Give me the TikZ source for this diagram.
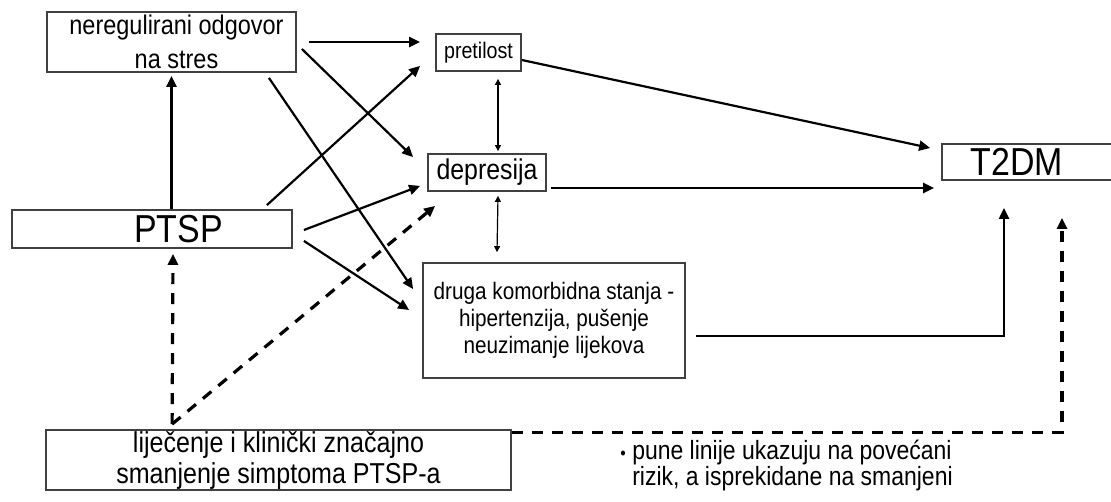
\documentclass[tikz,border=0pt]{standalone}
\usepackage{fontspec}
\setmainfont{Liberation Sans}[FakeStretch=0.87]
\usetikzlibrary{arrows.meta}
\begin{document}
\begin{tikzpicture}[x=0.5pt,y=-0.5pt,
    box/.style={draw=black!75,line width=0.9pt,inner sep=0pt,align=center},
    arr/.style={line width=1.1pt,-{Triangle[length=5.5pt,width=5pt]}},
    twoway/.style={line width=0.6pt,{Triangle[length=3pt,width=3pt]}-{Triangle[length=3pt,width=3pt]}},
    cut/.style={line width=1.6pt,dash pattern=on 5.5pt off 4.5pt,-{Triangle[length=5.5pt,width=5pt]}}]
  \useasboundingbox (0,0) rectangle (1111,502);
  % boxes
  \node[box,minimum width=124.5pt,minimum height=30pt,font=\fontsize{13.5}{17}\selectfont] (nereg) at (171.5,42) {\hspace*{5pt}neregulirani odgovor\\\hspace*{5pt}na stres};
  \node[box,minimum width=42.5pt,minimum height=18.5pt,font=\fontsize{11.3}{12}\selectfont] (pretilost) at (478.5,52.5) {pretilost};
  \node[box,minimum width=59pt,minimum height=18.5pt,font=\fontsize{14.3}{15}\selectfont] (depresija) at (487,172.5) {depresija};
  \node[box,minimum width=140pt,minimum height=19pt,font=\fontsize{19.5}{20}\selectfont] (ptsp) at (152,229) {\hspace*{26.5pt}PTSP};
  \node[box,minimum width=89pt,minimum height=18pt,font=\fontsize{19.5}{20}\selectfont] (t2dm) at (1031,162) {T2DM\hspace*{14pt}};
  \node[box,minimum width=131pt,minimum height=57.5pt,font=\fontsize{11.9}{13.5}\selectfont] (druga) at (554,320.5) {druga komorbidna stanja -\\hipertenzija, pušenje\\neuzimanje lijekova};
  \node[box,minimum width=232.5pt,minimum height=30pt,font=\fontsize{14.4}{15.5}\selectfont] (lijecenje) at (278.5,460) {liječenje i klinički značajno\\smanjenje simptoma PTSP-a};
  \node[anchor=west,align=left,inner sep=0pt,font=\fontsize{13.2}{13}\selectfont] (legenda) at (620,466) {{\small •} pune linije ukazuju na povećani\\\hphantom{{\small •} }rizik, a isprekidane na smanjeni};
  \coordinate (kut) at ([shift={(127,-5)}]lijecenje.north west);
  % solid connectors
  \draw[arr,shorten <=6pt,shorten >=7.5pt] (nereg.east) -- (nereg.east -| pretilost.west);
  \draw[arr] ([shift={(5,7)}]nereg.east) -- ([shift={(-14,4)}]depresija.north west);
  \draw[arr] ([shift={(-28,5)}]nereg.south east) -- ([shift={(-9,27)}]druga.north west);
  \draw[arr,shorten >=1.5pt] (nereg.south |- ptsp.north) -- (nereg.south);
  \draw[arr] ([shift={(-26,-4)}]ptsp.north east) -- ([shift={(-15,-6)}]pretilost.south west);
  \draw[arr] ([shift={(11,1)}]ptsp.east) -- ([shift={(-7,-6)}]depresija.south west);
  \draw[arr] ([shift={(11,-8)}]ptsp.south east) -- ([shift={(-13,-10.5)}]druga.west);
  \draw[twoway] ([shift={(19.5,7)}]pretilost.south) -- ([shift={(11,-2)}]depresija.north);
  \draw[twoway] ([shift={(11,4)}]depresija.south) -- ([shift={(-57,-10)}]druga.north);
  \draw[arr] ([shift={(0,7.5)}]pretilost.east) -- ([shift={(-11,-14)}]t2dm.west);
  \draw[arr,shorten >=5.5pt] ([shift={(4,15.5)}]depresija.east) -- ([shift={(4,15.5)}]depresija.east -| t2dm.west);
  \draw[arr] ([shift={(10,15.5)}]druga.east) -| ([shift={(-27,27)}]t2dm.south);
  % dashed connectors
  \draw[cut] (kut) -- ([shift={(21,5)}]ptsp.south);
  \draw[cut] (kut) -- ([shift={(8,14)}]depresija.south west);
  \draw[cut] ([shift={(0,3)}]lijecenje.north east) -| ([shift={(31,37)}]t2dm.south);
\end{tikzpicture}
\end{document}
